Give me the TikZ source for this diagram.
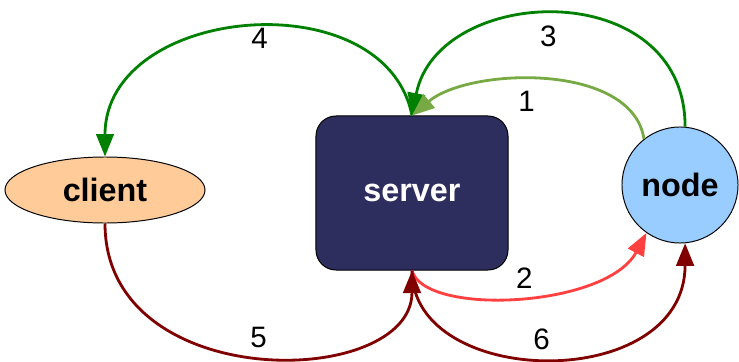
\documentclass[tikz,border=0pt]{standalone}
\usepackage{fontspec}
\setmainfont{Liberation Sans}
\usetikzlibrary{shapes.geometric,arrows.meta}

\definecolor{clientfill}{HTML}{FFCC99}
\definecolor{serverfill}{HTML}{2E2E5E}
\definecolor{nodefill}{HTML}{99CCFF}
\definecolor{darkgreen}{HTML}{008000}
\definecolor{lightgreen}{HTML}{77AA44}
\definecolor{brightred}{HTML}{FF4040}
\definecolor{darkred}{HTML}{800000}

\begin{document}
\begin{tikzpicture}[x=0.025cm,y=-0.025cm,
    box/.style={draw=black,line width=0.7pt,font=\fontsize{23}{26}\selectfont\bfseries},
    link/.style={line width=2pt,-{Triangle[length=16pt,width=12.5pt]}},
    num/.style={font=\fontsize{21}{24}\selectfont,inner sep=1pt}]
    \useasboundingbox (0,0) rectangle (739,362);

    \node[box,ellipse,fill=clientfill,minimum width=5cm,minimum height=1.65cm] (client) at (105,190) {client};
    \node[box,rectangle,rounded corners=0.5cm,fill=serverfill,text=white,
      minimum width=4.8cm,minimum height=3.85cm] (server) at (412,193) {server};
    \node[box,circle,fill=nodefill,minimum size=2.9cm] (node) at (680,185) {node};

    \draw[link,darkgreen] (server.north) .. controls +(-27,-136) and +(0,-152) .. (client.north)
      node[num,midway,below=-2pt,xshift=8,text=black] {4};
    \draw[link,darkgreen] (node.85) .. controls +(0,-152) and +(26,-132) .. (server.north)
      node[num,midway,below=6pt,xshift=-7,text=black] {3};
    \draw[link,lightgreen] (node.128) .. controls +(-12,-77) and +(57,-48) .. (server.north)
      node[num,midway,below=6pt,xshift=-13,text=black] {1};
    \draw[link,brightred] (server.south) .. controls +(12,46) and +(-40,75) .. (node.235)
      node[num,midway,above=4pt,xshift=4,text=black] {2};
    \draw[link,darkred] (client.south) .. controls +(0,172) and +(0,119) .. (server.south)
      node[num,midway,above=4pt,text=black] {5};
    \draw[link,darkred] (server.south) .. controls +(0,119) and +(0,151) .. (node.-85)
      node[num,midway,above=4pt,xshift=-5,text=black] {6};
\end{tikzpicture}
\end{document}
